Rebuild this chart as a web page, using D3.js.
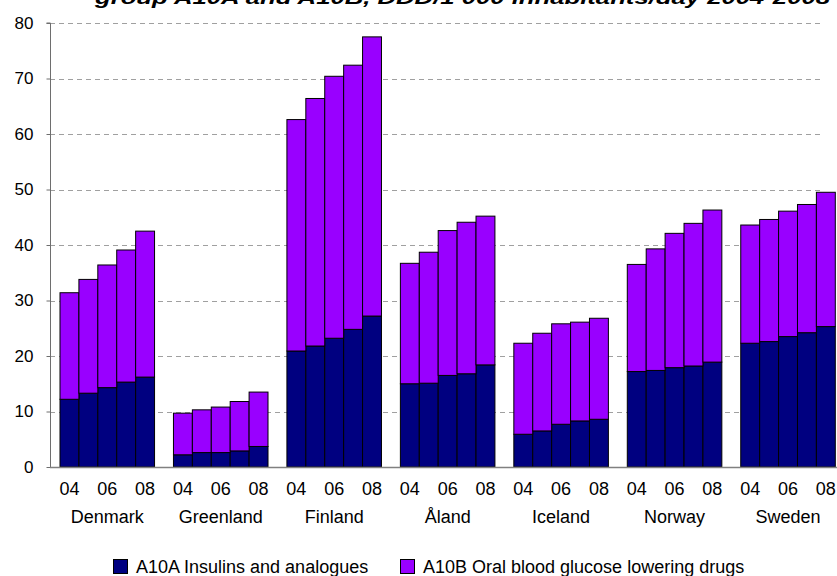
<!DOCTYPE html>
<html>
<head>
<meta charset="utf-8">
<script src="https://cdn.jsdelivr.net/npm/d3@7"></script>
<style>
  html, body { margin: 0; padding: 0; background: #fff; }
  svg { display: block; }
  text { font-family: "Liberation Sans", Arial, sans-serif; fill: #000; }
</style>
</head>
<body>
<svg id="chart" width="837" height="576"></svg>
<script>
// Antidiabetic drug consumption, DDD/1 000 inhabitants/day, 2004-2008
const countries = ["Denmark", "Greenland", "Finland", "Åland", "Iceland", "Norway", "Sweden"];
const years = ["2004", "2005", "2006", "2007", "2008"];
const yearLabels = ["04", "", "06", "", "08"];
const seriesNames = ["A10A Insulins and analogues", "A10B Oral blood glucose lowering drugs"];
const seriesColors = ["#000080", "#9900FF"];
const yTicks = [0, 10, 20, 30, 40, 50, 60, 70, 80];

// A10A Insulins and analogues, per country, 2004..2008
const insulins = [
  [12.2, 13.3, 14.3, 15.3, 16.2],   // Denmark
  [2.2, 2.6, 2.6, 2.9, 3.7],        // Greenland
  [20.9, 21.8, 23.2, 24.8, 27.2],   // Finland
  [15.0, 15.1, 16.5, 16.8, 18.4],   // Åland
  [5.9, 6.5, 7.7, 8.3, 8.6],        // Iceland
  [17.2, 17.4, 17.9, 18.2, 18.9],   // Norway
  [22.3, 22.6, 23.5, 24.2, 25.3]    // Sweden
];
// A10B Oral blood glucose lowering drugs, per country, 2004..2008
const oralDrugs = [
  [19.2, 20.5, 22.1, 23.8, 26.3],   // Denmark
  [7.5, 7.7, 8.2, 8.9, 9.8],        // Greenland
  [41.7, 44.6, 47.2, 47.6, 50.3],   // Finland
  [21.7, 23.6, 26.1, 27.3, 26.8],   // Åland
  [16.4, 17.6, 18.1, 17.8, 18.2],   // Iceland
  [19.3, 21.9, 24.2, 25.7, 27.4],   // Norway
  [21.3, 22.0, 22.6, 23.1, 24.2]    // Sweden
];

const svg = d3.select("#chart");
const plotLeft = 50, plotTop = 23, plotBottom = 467, plotRight = 822;

// Flat table: one row per country/year
const rows = [];
countries.forEach((c, i) => years.forEach((yr, j) => {
  rows.push({ country: c, year: yr, a10a: insulins[i][j], a10b: oralDrugs[i][j] });
}));

const y = d3.scaleLinear().domain([0, 80]).range([plotBottom, plotTop]);
const x0 = d3.scaleBand().domain(countries).range([60, 835.3]).paddingInner(1 / 6).paddingOuter(0);
const x1 = d3.scaleBand().domain(years).range([0, x0.bandwidth()]).padding(0);

// Dashed horizontal gridlines
svg.append("g").selectAll("line")
  .data(yTicks.filter(t => t > 0))
  .join("line")
  .attr("x1", plotLeft).attr("x2", plotRight)
  .attr("y1", d => Math.round(y(d)) + 0.5).attr("y2", d => Math.round(y(d)) + 0.5)
  .attr("stroke", "#a0a0a0").attr("stroke-width", 1)
  .attr("stroke-dasharray", "5,4");

// Stacked bars
const stack = d3.stack().keys(["a10a", "a10b"]);
const layers = stack(rows);
svg.append("g").selectAll("g")
  .data(layers)
  .join("g")
  .attr("fill", (d, i) => seriesColors[i])
  .selectAll("rect")
  .data(d => d)
  .join("rect")
  .attr("x", d => x0(d.data.country) + x1(d.data.year))
  .attr("width", x1.bandwidth())
  .attr("y", d => y(d[1]))
  .attr("height", d => y(d[0]) - y(d[1]))
  .attr("stroke", "#000").attr("stroke-width", 1);

// Y axis
const yAxis = svg.append("g")
  .attr("transform", `translate(${plotLeft + 0.5},0)`)
  .call(d3.axisLeft(y).tickValues(yTicks).tickSize(4).tickPadding(13).tickFormat(d3.format("d")));
yAxis.select(".domain").attr("stroke", "#6e6e6e").attr("d", `M-4,${y(80)}H0V${plotBottom}`);
yAxis.selectAll(".tick line").attr("stroke", "#6e6e6e");
yAxis.selectAll(".tick text").attr("font-size", 17).attr("font-family", "Liberation Sans, Arial, sans-serif").attr("fill", "#000");

// Category baseline
svg.append("line")
  .attr("x1", plotLeft).attr("x2", 837)
  .attr("y1", plotBottom + 0.5).attr("y2", plotBottom + 0.5)
  .attr("stroke", "#808080").attr("stroke-width", 1.5);

// Year labels under bars
const yearG = svg.append("g");
countries.forEach(c => {
  years.forEach((yr, j) => {
    if (!yearLabels[j]) return;
    yearG.append("text")
      .attr("x", x0(c) + x1(yr) + x1.bandwidth() / 2)
      .attr("y", 495)
      .attr("text-anchor", "middle")
      .attr("font-size", 18)
      .text(yearLabels[j]);
  });
});

// Country labels
svg.append("g").selectAll("text")
  .data(countries)
  .join("text")
  .attr("x", d => x0(d) + x0.bandwidth() / 2)
  .attr("y", 523)
  .attr("text-anchor", "middle")
  .attr("font-size", 18)
  .text(d => d);

// Legend
const legendX = [113, 400];
const legend = svg.append("g").selectAll("g")
  .data(seriesNames)
  .join("g")
  .attr("transform", (d, i) => `translate(${legendX[i]},559)`);
legend.append("rect")
  .attr("x", 0.5).attr("y", 0.5).attr("width", 14).attr("height", 14)
  .attr("fill", (d, i) => seriesColors[i])
  .attr("stroke", "#000").attr("stroke-width", 1);
legend.append("text")
  .attr("x", 23).attr("y", 13.5)
  .attr("font-size", 18)
  .text(d => d);

// Title (second line, partly above the top edge)
svg.append("text")
  .attr("x", 95).attr("y", 4)
  .attr("font-size", 18)
  .attr("font-weight", "bold")
  .attr("font-style", "italic")
  .attr("textLength", 735)
  .attr("lengthAdjust", "spacingAndGlyphs")
  .text("group A10A and A10B, DDD/1 000 inhabitants/day 2004-2008");
</script>
</body>
</html>
